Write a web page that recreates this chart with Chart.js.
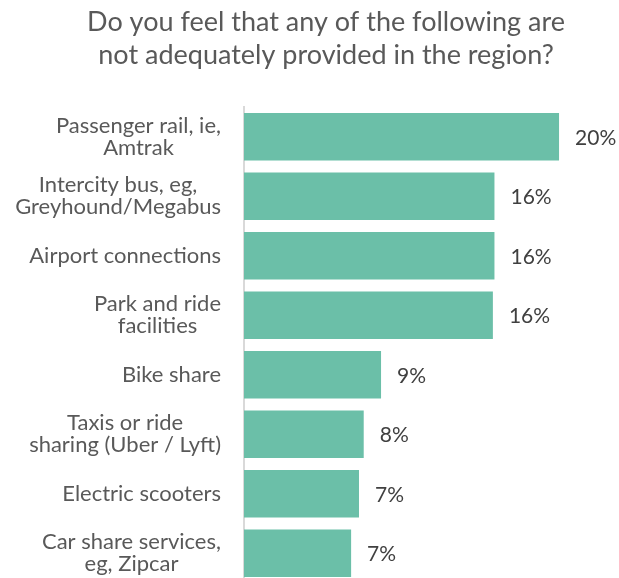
<!DOCTYPE html>
<html>
<head>
<meta charset="utf-8">
<script src="https://cdn.jsdelivr.net/npm/chart.js@4.4.0/dist/chart.umd.min.js"></script>
<style>
  html, body { margin: 0; padding: 0; background: #fff; overflow: hidden; }
  canvas { display: block; }
</style>
</head>
<body>
<canvas id="servicesChart" width="619" height="583"></canvas>
<script>
const titleLines = ["Do you feel that any of the following are", "not adequately provided in the region?"];

const categories = [
	["Passenger rail, ie,", "Amtrak"],
	["Intercity bus, eg,", "Greyhound/Megabus"],
	["Airport connections"],
	["Park and ride", "facilities"],
	["Bike share"],
	["Taxis or ride", "sharing (Uber / Lyft)"],
	["Electric scooters"],
	["Car share services,", "eg, Zipcar"]
];

// percent of respondents
const shares = [20.0, 15.9, 15.9, 15.8, 8.7, 7.6, 7.3, 6.8];

const FONT = "Lato, 'Open Sans', sans-serif";

// title, category labels and value labels are all drawn by hand
const textPlugin = {
	id: "textPlugin",
	afterDatasetsDraw(chart) {
		const ctx = chart.ctx;
		const yScale = chart.scales.y;
		const meta = chart.getDatasetMeta(0);

		ctx.save();

		// title
		ctx.fillStyle = "#595959";
		ctx.font = "27px " + FONT;
		ctx.textAlign = "center";
		ctx.textBaseline = "alphabetic";
		ctx.fillText(titleLines[0], 326, 31);
		ctx.fillText(titleLines[1], 326, 64);

		// category labels: each block right-aligned, lines centred inside it
		ctx.font = "22px " + FONT;
		ctx.textBaseline = "middle";
		const lineH = 22;
		categories.forEach((lines, i) => {
			const y = yScale.getPixelForTick(i);
			const blockW = Math.max(...lines.map(l => ctx.measureText(l).width));
			const cx = 221 - blockW / 2;
			const y0 = y - (lines.length - 1) * lineH / 2;
			lines.forEach((l, j) => ctx.fillText(l, cx, y0 + j * lineH));
		});

		// value labels
		ctx.font = "21px " + FONT;
		ctx.fillStyle = "#404040";
		ctx.textAlign = "left";
		meta.data.forEach((bar, i) => {
			ctx.fillText(Math.round(shares[i]) + "%", bar.x + 16, bar.y + 1);
		});

		ctx.restore();
	}
};

var config = {
	type: "bar",
	data: {
		labels: categories,
		datasets: [{
			data: shares,
			backgroundColor: "rgb(107, 191, 168)",
			borderWidth: 0,
			barPercentage: 0.8,
			categoryPercentage: 1.0
		}]
	},
	options: {
		indexAxis: "y",
		responsive: false,
		devicePixelRatio: 1,
		animation: false,
		layout: { padding: { top: 107, right: 19, bottom: 0, left: 0 } },
		plugins: {
			legend: { display: false },
			tooltip: { enabled: false }
		},
		scales: {
			x: { display: false, min: 0, max: 22.6 },
			y: {
				grid: { display: false },
				border: { display: true, color: "#d9d9d9", width: 2 },
				ticks: { display: false },
				afterFit(scale) { scale.width = 244; }
			}
		}
	},
	plugins: [textPlugin]
};

var servicesChart = new Chart(document.getElementById("servicesChart"), config);
</script>
</body>
</html>
